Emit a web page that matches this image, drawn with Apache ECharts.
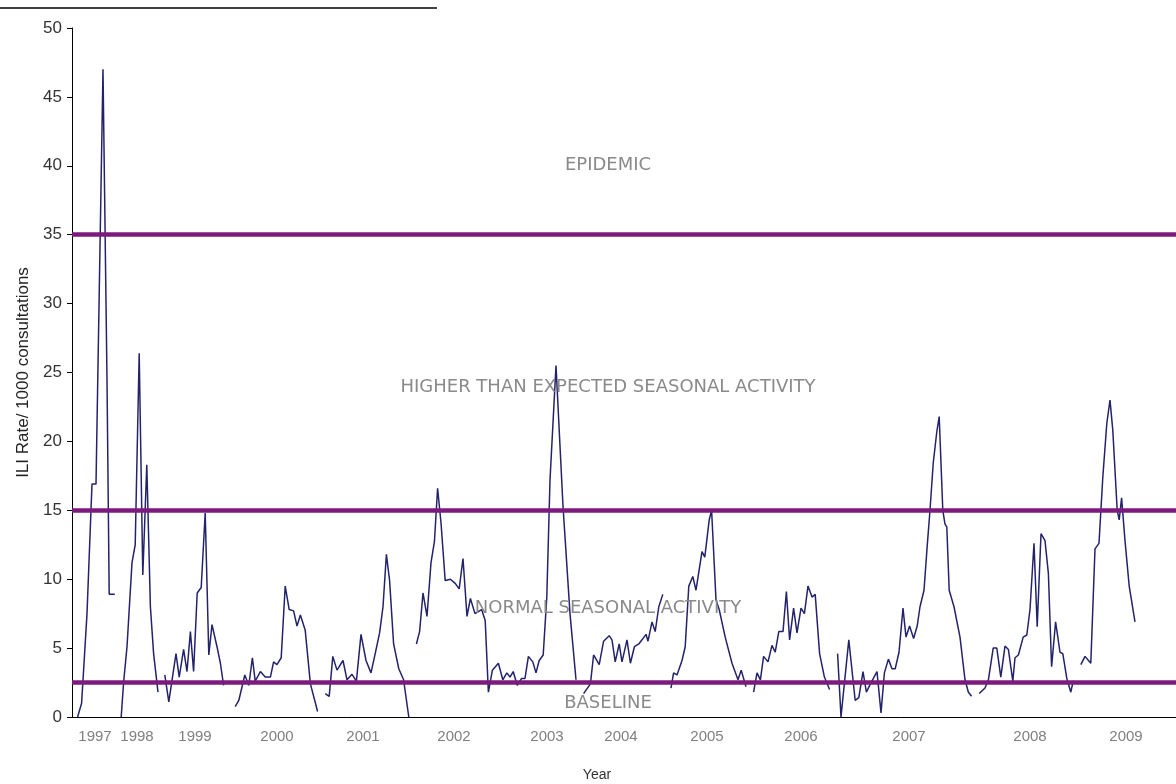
<!DOCTYPE html>
<html>
<head>
<meta charset="utf-8">
<title>ILI rate</title>
<script src="https://cdn.jsdelivr.net/npm/echarts@6/dist/echarts.min.js"></script>
<style>
  html, body { margin: 0; padding: 0; background: #fff; }
  #chart { width: 1176px; height: 784px; }
</style>
</head>
<body>
<div id="chart"></div>
<script>
// x = report index (weeks along the axis), y = ILI rate per 1000 consultations
const season1997 = [[1.4,0],[2.4,1.0],[3.75,7.5],[5.0,16.9],[6.0,16.9],[7.75,47.0],[8.75,24.5],[9.3,8.9],[10.7,8.9]]
const season1998 = [[12.3,0],[12.9,2.5],[13.75,5.1],[15.0,11.2],[15.8,12.5],[16.8,26.4],[17.7,10.3],[18.7,18.3],[19.6,8.0],[20.4,4.6],[21.5,1.8]]
const season1999 = [[23.2,3.05],[24.2,1.1],[26.0,4.6],[26.8,2.9],[27.9,4.9],[28.75,3.3],[29.6,6.2],[30.4,3.3],[31.3,9.0],[32.3,9.4],[33.3,14.8],[34.2,4.5],[35.0,6.7],[36.25,5.1],[37.1,3.9],[37.9,2.3]]
const season2000 = [[40.8,0.75],[41.7,1.2],[43.2,3.05],[44.2,2.3],[45.1,4.3],[45.8,2.6],[47.1,3.3],[48.3,2.9],[49.6,2.9],[50.4,4.0],[51.25,3.8],[52.3,4.3],[53.3,9.5],[54.3,7.8],[55.4,7.7],[56.25,6.6],[57.1,7.4],[58.3,6.3],[59.6,2.4],[61.4,0.4]]
const season2001 = [[63.3,1.7],[64.3,1.5],[65.2,4.4],[66.25,3.4],[67.75,4.1],[68.75,2.7],[70.0,3.1],[71.1,2.6],[72.25,6.0],[73.5,4.1],[74.75,3.2],[75.8,4.6],[76.9,6.1],[77.75,8.0],[78.6,11.8],[79.4,9.9],[80.4,5.3],[81.7,3.5],[82.9,2.7],[84.2,0]]
const season2002 = [[86.1,5.3],[86.9,6.2],[87.75,9.0],[88.75,7.3],[89.75,11.2],[90.6,12.7],[91.4,16.6],[92.25,14.1],[93.3,9.9],[94.6,10.0],[95.8,9.7],[96.8,9.3],[97.75,11.5],[98.75,7.3],[99.6,8.6],[100.75,7.5],[102.4,7.8],[103.3,7.0],[104.1,1.8],[105.1,3.4],[106.6,3.9],[107.7,2.7],[108.7,3.2],[109.5,2.9],[110.3,3.3],[111.3,2.3],[112.4,2.8],[113.25,2.8],[114.1,4.4],[115.2,4.0],[116.0,3.2],[116.8,4.1],[117.8,4.5],[118.7,8.7],[119.5,17.2],[121.0,25.5],[122.75,15.3],[124.5,7.5],[126.0,2.7]]
const season2004 = [[127.9,1.7],[129.6,2.4],[130.4,4.5],[131.8,3.8],[132.9,5.5],[134.3,5.9],[135.0,5.6],[135.8,4.0],[136.8,5.3],[137.5,4.0],[138.75,5.6],[139.6,3.9],[140.6,5.1],[141.7,5.3],[142.5,5.6],[143.5,6.0],[144.0,5.5],[145.0,6.9],[145.8,6.2],[146.7,8.0],[147.7,8.9]]
const season2005 = [[149.75,2.1],[150.4,3.2],[151.25,3.05],[152.5,4.1],[153.3,5.1],[154.2,9.5],[155.2,10.2],[156.0,9.2],[157.5,12.0],[158.2,11.6],[159.3,14.3],[159.9,15.0],[161.0,8.5],[161.8,7.8],[163.3,5.8],[165.0,3.9],[166.5,2.7],[167.3,3.4],[168.5,2.2]]
const season2006 = [[170.4,1.8],[171.25,3.2],[172.1,2.7],[172.9,4.4],[174.0,4.0],[175.0,5.2],[175.8,4.7],[176.7,6.2],[177.75,6.2],[178.6,9.1],[179.4,5.6],[180.4,7.9],[181.25,6.1],[182.25,7.9],[183.1,7.5],[184.0,9.5],[185.0,8.7],[185.8,8.9],[186.9,4.6],[188.1,2.9],[189.4,2.0]]
const season2007 = [[191.4,4.6],[192.25,0],[194.2,5.6],[195.8,1.2],[196.7,1.4],[197.75,3.3],[198.6,1.8],[199.6,2.4],[201.25,3.3],[202.25,0.3],[203.1,3.2],[204.1,4.2],[205.0,3.5],[205.8,3.5],[206.75,4.7],[207.75,7.9],[208.5,5.8],[209.4,6.6],[210.4,5.7],[211.3,6.6],[212.0,8.0],[213.0,9.2],[213.8,12.4],[214.5,15.0],[215.3,18.4],[216.2,20.7],[216.8,21.8],[217.7,15.0],[218.25,14.0],[218.7,13.8],[219.3,9.2],[220.5,8.0],[222.0,5.8],[223.25,2.7],[224.1,1.8],[224.9,1.5]]
const season2008 = [[226.8,1.7],[228.25,2.1],[229.1,2.7],[230.3,5.0],[231.2,5.0],[232.2,2.9],[233.25,5.15],[234.1,4.9],[235.2,2.6],[235.75,4.3],[236.6,4.5],[237.8,5.8],[238.7,5.95],[239.5,7.8],[240.5,12.6],[241.3,6.55],[242.25,13.3],[243.25,12.8],[244.1,10.4],[244.9,3.65],[245.9,6.9],[247.0,4.7],[247.7,4.6],[248.7,2.8],[249.7,1.8],[250.3,2.6],[251.6,2.4]]
const season2009 = [[252.2,3.8],[253.25,4.4],[254.7,3.9],[255.75,12.2],[256.75,12.6],[257.7,17.4],[258.7,21.3],[259.5,23.0],[260.2,20.8],[261.3,15.0],[261.8,14.3],[262.4,15.9],[263.25,12.8],[264.3,9.5],[265.75,6.9]]

const seasons = [season1997, season1998, season1999, season2000, season2001, season2002,
                 season2004, season2005, season2006, season2007, season2008, season2009]

// year tick labels and where they sit on the x axis
const yearLabels = ['1997','1998','1999','2000','2001','2002','2003','2004','2005','2006','2007','2008','2009']
const yearPos = [5.75, 16.25, 30.75, 51.25, 72.75, 95.5, 118.75, 137.25, 158.75, 182.25, 209.25, 239.5, 263.5]

// threshold levels and the zone names
const thresholds = [35, 15, 2.5]
const zoneNames = ['EPIDEMIC', 'HIGHER THAN EXPECTED SEASONAL ACTIVITY', 'NORMAL SEASONAL ACTIVITY', 'BASELINE']
const zoneY = [40, 23.9, 7.9, 1.0]
const zoneX = 134

const chart = echarts.init(document.getElementById('chart'))

const lineSeries = seasons.map((s) => {
    return {
        type : 'line',
        data : s,
        symbol : 'none',
        z : 3,
        lineStyle : { color : '#23236c', width : 1.5 },
        silent : true
    }
})

const option = {
    animation : false,
    backgroundColor : '#fff',
    // keep the plot box fixed, do not let ECharts shrink it for the axis names
    grid : { left : 72, right : 0, top : 28, bottom : 67, containLabel : false, outerBoundsMode : 'none' },
    xAxis : {
        type : 'value',
        min : 0,
        max : 276,
        name : 'Year',
        nameLocation : 'middle',
        nameGap : 51,
        nameTextStyle : { color : '#333', fontSize : 14, fontFamily : 'Liberation Sans', padding : [0, 54, 0, 0] },
        axisLine : { lineStyle : { color : '#000', width : 1 } },
        axisTick : { show : false },
        splitLine : { show : false },
        axisLabel : {
            customValues : yearPos,
            formatter : (v) => yearLabels[yearPos.indexOf(v)],
            color : '#808080',
            fontSize : 15,
            fontFamily : 'Liberation Sans',
            margin : 12
        }
    },
    yAxis : {
        type : 'value',
        min : 0,
        max : 50,
        interval : 5,
        name : 'ILI Rate/ 1000 consultations',
        nameLocation : 'middle',
        nameGap : 40,
        nameTextStyle : { color : '#222', fontSize : 17, fontFamily : 'Liberation Sans' },
        axisLine : { show : true, lineStyle : { color : '#000', width : 1 } },
        axisTick : { show : true, length : 5, lineStyle : { color : '#000' } },
        splitLine : { show : false },
        axisLabel : { color : '#333', fontSize : 17, fontFamily : 'Liberation Sans', margin : 10 }
    },
    series : [
        {
            type : 'line',
            data : [],
            z : 2,
            silent : true,
            markLine : {
                silent : true,
                symbol : 'none',
                label : { show : false },
                lineStyle : { color : '#7d1a7d', width : 4.5, type : 'solid' },
                data : thresholds.map((t) => ({ yAxis : t }))
            },
            markPoint : {
                silent : true,
                symbolSize : 0,
                label : {
                    show : true,
                    position : 'inside',
                    color : '#8a8a8a',
                    fontSize : 18,
                    fontFamily : 'DejaVu Sans'
                },
                data : zoneNames.map((n, i) => ({
                    coord : [zoneX, zoneY[i]],
                    label : { formatter : n }
                }))
            }
        },
        ...lineSeries
    ],
    graphic : [
        {
            type : 'line',
            shape : { x1 : 0, y1 : 8, x2 : 437, y2 : 8 },
            style : { stroke : '#000', lineWidth : 1.5 }
        }
    ]
}

chart.setOption(option)
</script>
</body>
</html>
